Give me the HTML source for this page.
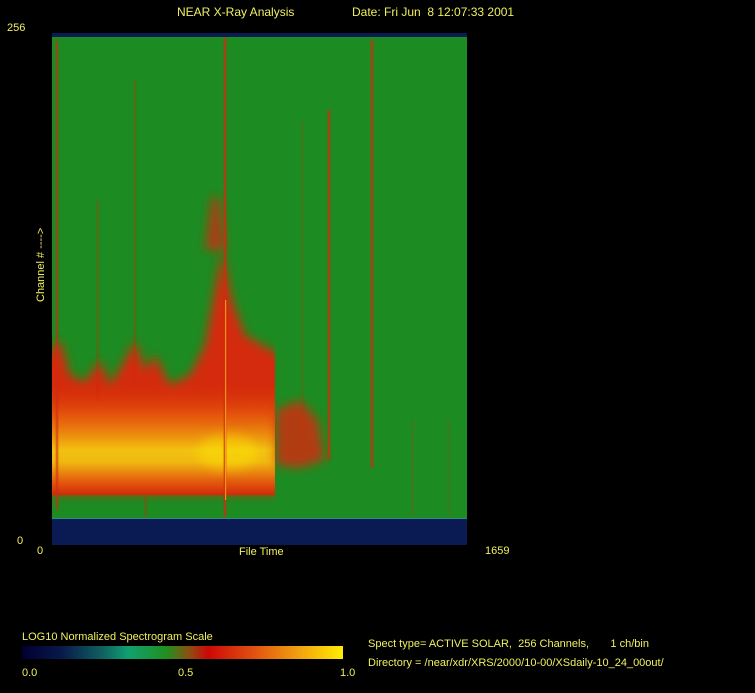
<!DOCTYPE html>
<html><head><meta charset="utf-8"><style>
html,body{margin:0;padding:0;background:#000;}
body{width:755px;height:693px;position:relative;overflow:hidden;font-family:"Liberation Sans",sans-serif;color:#f0f060;font-size:11px;}
.t{position:absolute;white-space:pre;line-height:1;}
</style></head><body>
<svg width="755" height="693" style="position:absolute;left:0;top:0">
<defs>
<clipPath id="cp"><rect x="52" y="37" width="415" height="481"/></clipPath>
<clipPath id="cp2"><rect x="52" y="37" width="223" height="481"/></clipPath>
<filter id="b" x="-20%" y="-20%" width="140%" height="140%"><feGaussianBlur stdDeviation="5"/></filter>
<filter id="b2" x="-50%" y="-5%" width="200%" height="110%"><feGaussianBlur stdDeviation="0.8"/></filter>
<linearGradient id="core" x1="0" y1="380" x2="0" y2="497" gradientUnits="userSpaceOnUse">
<stop offset="0" stop-color="#d82a0a" stop-opacity="0"/>
<stop offset="0.3" stop-color="#e8600c" stop-opacity="0.8"/>
<stop offset="0.6" stop-color="#f2c210"/>
<stop offset="0.7" stop-color="#f0b810"/>
<stop offset="0.86" stop-color="#e4600e"/>
<stop offset="1" stop-color="#d0200a"/>
</linearGradient>
<linearGradient id="cb" x1="0" x2="1" y1="0" y2="0">
<stop offset="0" stop-color="#000030"/>
<stop offset="0.12" stop-color="#08184a"/>
<stop offset="0.25" stop-color="#106060"/>
<stop offset="0.33" stop-color="#10a070"/>
<stop offset="0.45" stop-color="#209020"/>
<stop offset="0.52" stop-color="#8a5010"/>
<stop offset="0.58" stop-color="#cc0808"/>
<stop offset="0.72" stop-color="#e05010"/>
<stop offset="0.86" stop-color="#f0a010"/>
<stop offset="1" stop-color="#ffee00"/>
</linearGradient>
</defs>
<rect x="52" y="33" width="415" height="512" fill="#0a1a52"/>
<rect x="52" y="37" width="415" height="481" fill="#1c8c22"/>
<g clip-path="url(#cp2)">
<g filter="url(#b)">
<polygon fill="#d42a0c" points="30,370 60,340 70,375 85,382 100,360 110,385 125,360 135,340 145,370 155,355 170,385 190,375 205,345 215,290 222,250 232,300 245,335 262,345 290,360 290,494 30,494"/>
<polygon fill="#cc2a0c" opacity="0.8" points="205,250 212,195 220,200 226,250"/>
</g>
<rect x="52" y="380" width="223" height="115" fill="url(#core)"/>
<g filter="url(#b)" opacity="0.35">
<ellipse cx="228" cy="452" rx="30" ry="18" fill="#fff000"/>
</g>
</g>
<g clip-path="url(#cp)">
<g filter="url(#b)">
<polygon fill="#cc300c" opacity="0.85" points="276,410 300,400 318,420 325,460 300,468 276,465"/>
</g>
<g filter="url(#b2)" fill="#d02a0a">
<rect x="56" y="40" width="2" height="470" opacity="0.8"/>
<rect x="224" y="37" width="2" height="480"/>
<rect x="371" y="40" width="2" height="428"/>
<rect x="328" y="110" width="2" height="350"/>
<rect x="134" y="80" width="1.5" height="300" opacity="0.5"/>
<rect x="97" y="200" width="1.5" height="200" opacity="0.5"/>
<rect x="302" y="120" width="1.5" height="320" opacity="0.3"/>
<rect x="145" y="497" width="1.5" height="20" opacity="0.6"/>
<rect x="412" y="420" width="1" height="95" opacity="0.4"/>
<rect x="448" y="420" width="1" height="95" opacity="0.4"/>
</g>
<rect x="225" y="300" width="1.2" height="200" fill="#f8c020" opacity="0.7"/>
</g>
<rect x="52" y="518" width="415" height="1" fill="#2a8a8a"/>
<rect x="22" y="646" width="321" height="13" fill="url(#cb)"/>
</svg>
<div class="t" style="left:177px;top:6px;font-size:12px">NEAR X-Ray Analysis</div>
<div class="t" style="left:352px;top:6px;font-size:12px">Date: Fri Jun  8 12:07:33 2001</div>
<div class="t" style="left:7px;top:23px">256</div>
<div class="t" style="left:17px;top:536px">0</div>
<div class="t" style="left:37px;top:546px">0</div>
<div class="t" style="left:239px;top:547px">File Time</div>
<div class="t" style="left:485px;top:546px">1659</div>
<div class="t" style="left:36px;top:302px;transform:rotate(-90deg);transform-origin:0 0">Channel # ----&gt;</div>
<div class="t" style="left:22px;top:632px">LOG10 Normalized Spectrogram Scale</div>
<div class="t" style="left:22px;top:668px">0.0</div>
<div class="t" style="left:178px;top:668px">0.5</div>
<div class="t" style="left:340px;top:668px">1.0</div>
<div class="t" style="left:368px;top:639px">Spect type= ACTIVE SOLAR,  256 Channels,       1 ch/bin</div>
<div class="t" style="left:368px;top:658px">Directory = /near/xdr/XRS/2000/10-00/XSdaily-10_24_00out/</div>
</body></html>
